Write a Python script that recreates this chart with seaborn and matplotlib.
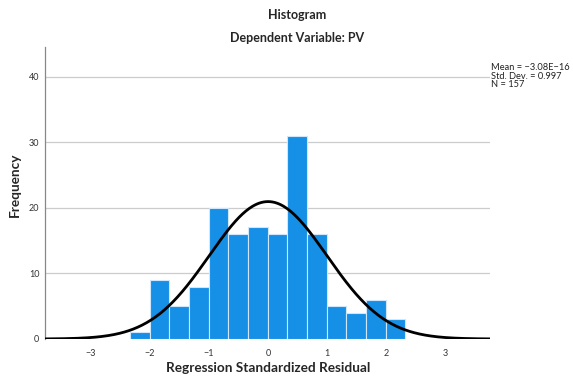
import numpy as np
import pandas as pd
import matplotlib
matplotlib.use("Agg")
import matplotlib.pyplot as plt
import seaborn as sns

# Data
bin_counts = [1, 9, 5, 8, 20, 16, 17, 16, 31, 16, 5, 4, 6, 3]
bin_start = -2.34
bin_width = 1 / 3
mean_val = -3.08e-16
std_val = 0.997
n_val = 157
x_ticks = [-3, -2, -1, 0, 1, 2, 3]
y_ticks = [0, 10, 20, 30, 40]

edges = [float(bin_start + bin_width * i) for i in range(len(bin_counts) + 1)]
centers = [(edges[i] + edges[i + 1]) / 2 for i in range(len(bin_counts))]
df = pd.DataFrame({"resid": centers, "count": bin_counts})

sns.set_theme(style="white")
plt.rcParams["font.family"] = ["Lato", "DejaVu Sans"]

fig = plt.figure(figsize=(5.73, 3.78), dpi=100)
ax = fig.add_axes([45 / 573, 1 - 339 / 378, 445 / 573, 292 / 378])

for y in y_ticks[1:]:
    ax.axhline(y, color="#cccccc", lw=0.9, zorder=0)

sns.histplot(data=df, x="resid", weights="count", bins=edges, ax=ax,
             color="#1590e6", alpha=1, edgecolor="#cfe6fb", linewidth=0.8)

xlim = (-3.78, 3.76)
xs = np.linspace(xlim[0], xlim[1], 400)
ys = n_val * bin_width * np.exp(-0.5 * ((xs - mean_val) / std_val) ** 2) / (std_val * np.sqrt(2 * np.pi))
sns.lineplot(x=xs, y=ys, ax=ax, color="black", lw=2, zorder=3)

ax.set_xlim(*xlim)
ax.set_ylim(0, 44.5)
ax.set_xticks(x_ticks)
ax.set_xticklabels([str(t).replace("-", "\u2212") for t in x_ticks], fontsize=6.5, color="#333333")
ax.set_yticks(y_ticks)
ax.set_yticklabels([str(t) for t in y_ticks], fontsize=6.5, color="#333333")
ax.tick_params(axis="both", length=0, pad=4)
ax.tick_params(axis="x", pad=7)
for s in ["top", "right", "bottom"]:
    ax.spines[s].set_visible(False)
ax.spines["left"].set_color("#888888")
ax.spines["left"].set_linewidth(0.9)

ax.set_xlabel("")
ax.set_ylabel("")
fig.text(268 / 573, 1 - 368 / 378, "Regression Standardized Residual", ha="center", va="center",
         fontsize=9.8, fontweight="bold")
fig.text(15 / 573, 1 - 185 / 378, "Frequency", ha="center", va="center", rotation=90,
         fontsize=9.8, fontweight="bold")

fig.text(297 / 573, 1 - 15 / 378, "Histogram", ha="center", va="center",
         fontsize=9, fontweight="bold")
fig.text(297 / 573, 1 - 38 / 378, "Dependent Variable: PV", ha="center", va="center",
         fontsize=9, fontweight="bold")

fig.text(491 / 573, 1 - 63 / 378,
         f"Mean = \u22123.08E\u221216\nStd. Dev. = {std_val}\nN = {n_val}",
         ha="left", va="top", fontsize=6.7, linespacing=0.95, color="#222222")

fig.savefig("out.png", dpi=100)
